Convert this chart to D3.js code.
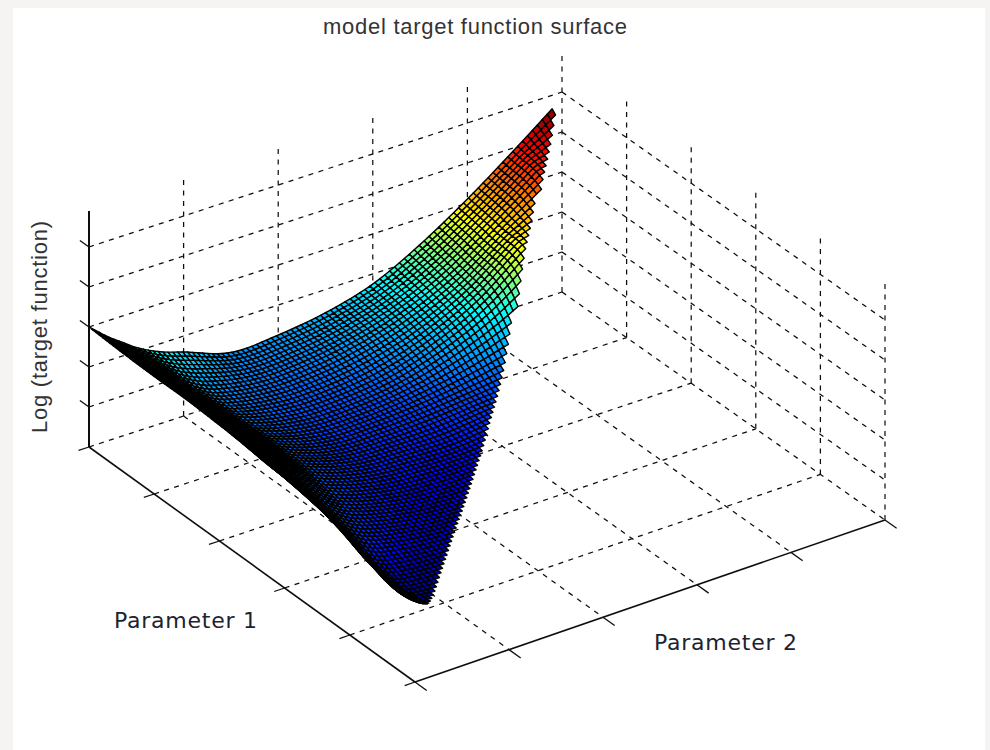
<!DOCTYPE html>
<html><head><meta charset="utf-8">
<script src="https://cdn.jsdelivr.net/npm/d3@7"></script>
<style>html,body{margin:0;padding:0;background:#f5f4f2;overflow:hidden}svg{display:block}</style>
</head><body><div id="chart"></div>
<script>
// ---- DATA ----
const titleText = "model target function surface";
const labelP1 = "Parameter 1";
const labelP2 = "Parameter 2";
const labelZ = "Log (target function)";
const p1Ticks = [0,1,2,3,4,5];
const p2Ticks = [0,1,2,3,4,5];
const zTicks = [0,1,2,3,4,5];
const zAxisTop = 5.9;
const zGridTop = 6;
// coarse surface matrix (rows: Parameter 1, columns: Parameter 2)
const p1Nodes = [0,0.5,1,1.5,2,2.5,3,3.5,4,4.5,5];
const p2Nodes = [0,0.1,0.2,0.35,0.5,0.75,1,1.5,2,2.5,3,3.5,4,4.5,5];
const zMatrix = [
 [3.00,2.80,2.60,2.35,2.10,1.80,1.60,1.20,1.25,1.42,1.75,2.35,3.10,3.95,4.85],
 [2.96,2.75,2.55,2.25,2.00,1.50,1.20,1.00,1.05,1.25,1.60,2.15,2.95,3.75,null],
 [2.94,2.74,2.54,2.24,1.94,1.40,1.05,0.80,0.80,0.95,1.30,1.85,2.70,null,null],
 [2.94,2.74,2.54,2.24,1.94,1.40,1.00,0.65,0.62,0.68,0.80,0.95,null,null,null],
 [2.90,2.68,2.45,2.10,1.80,1.30,0.90,0.55,0.45,0.42,0.55,null,null,null,null],
 [2.85,2.55,2.30,1.90,1.55,1.05,0.70,0.40,0.28,0.28,0.30,null,null,null,null],
 [2.85,2.50,2.20,1.75,1.30,0.70,0.45,0.25,0.16,null,null,null,null,null,null],
 [2.70,2.40,2.00,1.60,0.95,0.30,0.15,0.08,null,null,null,null,null,null,null],
 [2.45,2.05,1.65,1.20,0.70,0.20,0.08,null,null,null,null,null,null,null,null],
 [2.20,1.85,1.55,1.25,0.90,null,null,null,null,null,null,null,null,null,null],
 [2.00,1.60,1.30,null,null,null,null,null,null,null,null,null,null,null,null]
];
// largest Parameter 2 reached by the surface for each Parameter 1 node
const p2Limit = [4.95,4.42,3.88,3.34,2.84,2.34,1.84,1.34,0.84,0.32,-0.2];
const jetStops = ["#00008f","#0000ff","#00ffff","#ffff00","#ff0000","#7f0000"];
const jetDomain = [0,0.3,1.8,2.88,4.03,4.62];
// display mesh density: the fine mesh is a resampling of zMatrix for drawing only
const meshCells = 96;

// ---- SCALES ----
const W=990,H=750;
const svg=d3.select("#chart").append("svg").attr("width",W).attr("height",H);
svg.append("rect").attr("x",13).attr("y",8).attr("width",972).attr("height",742).attr("fill","#fff");
const defs=svg.append("defs");
defs.append("filter").attr("id","soft").append("feGaussianBlur").attr("stdDeviation",0.3);

const pL=[89,447],pF=[415,682],pB=[562,292],pR=[885,520];
const edgeNearX=d3.scaleLinear().domain([0,5]).range([pL[0],pF[0]]);
const edgeFarX=d3.scaleLinear().domain([0,5]).range([pB[0],pR[0]]);
const edgeNearY=d3.scaleLinear().domain([0,5]).range([pL[1],pF[1]]);
const edgeFarY=d3.scaleLinear().domain([0,5]).range([pB[1],pR[1]]);
const zPx=d3.scaleLinear().domain([0,1]).range([0,-40]);
function proj(p,q,z){
  const sx=d3.scaleLinear().domain([0,5]).range([edgeNearX(p),edgeFarX(p)]);
  const sy=d3.scaleLinear().domain([0,5]).range([edgeNearY(p),edgeFarY(p)]);
  return [sx(q),sy(q)+zPx(z||0)];
}
const jet=d3.scaleLinear().domain(jetDomain).range(jetStops).clamp(true);

// ---- GRID ----
const grid=svg.append("g").attr("fill","none").attr("stroke","#111").attr("stroke-width",1.25).attr("stroke-dasharray","5 5.5").attr("filter","url(#soft)");
const line=(a,b,g=grid)=>g.append("line").attr("x1",a[0]).attr("y1",a[1]).attr("x2",b[0]).attr("y2",b[1]);
p1Ticks.slice(1,5).forEach(t=>line(proj(t,0),proj(t,5)));
p2Ticks.slice(1,5).forEach(t=>line(proj(0,t),proj(5,t)));
zTicks.forEach(z=>{ line(proj(0,0,z),proj(0,5,z)); line(proj(0,5,z),proj(5,5,z)); });
p2Ticks.slice(1).forEach(t=>line(proj(0,t,0),proj(0,t,zGridTop)));
p1Ticks.slice(1).forEach(t=>line(proj(t,5,0),proj(t,5,zGridTop)));

// ---- SURFACE ----
// smooth resampling of the read matrix (cubic through the typed nodes), for display only
function cubic(xs,ys,x){
  const n=xs.length;
  const i=Math.max(0,Math.min(d3.bisectRight(xs,x)-1,n-2));
  const h=xs[i+1]-xs[i], t=(x-xs[i])/h;
  const sl=k=>{
    if(k<=0) return (ys[1]-ys[0])/(xs[1]-xs[0]);
    if(k>=n-1) return (ys[n-1]-ys[n-2])/(xs[n-1]-xs[n-2]);
    return (ys[k+1]-ys[k-1])/(xs[k+1]-xs[k-1]);
  };
  const m0=sl(i)*h,m1=sl(i+1)*h,t2=t*t,t3=t2*t;
  return (2*t3-3*t2+1)*ys[i]+(t3-2*t2+t)*m0+(-2*t3+3*t2)*ys[i+1]+(t3-t2)*m1;
}
const rowFns=zMatrix.map(row=>{
  const ix=d3.range(row.length).filter(i=>row[i]!==null);
  const xs=ix.map(i=>p2Nodes[i]), ys=ix.map(i=>row[i]);
  const last=xs[xs.length-1];
  return q=> q>=last ? ys[ys.length-1] : cubic(xs,ys,q);
});
const limitScale=d3.scaleLinear().domain(p1Nodes).range(p2Limit);
function zAt(p,q){ return Math.max(0,cubic(p1Nodes,rowFns.map(f=>f(q)),p)); }
const meshP=d3.scaleLinear().domain([0,meshCells]).range([0,5]);
const meshQ=d3.scaleLinear().domain([0,meshCells]).range([0,5]);
const cells=[];
for(let i=0;i<meshCells;i++){
  const p0=meshP(i),p1=meshP(i+1);
  for(let j=meshCells-1;j>=0;j--){ // far to near
    const q0=meshQ(j),q1=meshQ(j+1);
    if(q1>limitScale(p1)+0.03) continue;
    cells.push([[p0,q0],[p1,q0],[p1,q1],[p0,q1]].map(([p,q])=>[p,q,zAt(p,q)]));
  }
}
const lineGen=d3.line().curve(d3.curveLinearClosed);
svg.append("g").attr("stroke","#000").attr("stroke-width",1.45).attr("stroke-linejoin","round").attr("filter","url(#soft)")
  .selectAll("path").data(cells).join("path")
  .attr("d",c=>lineGen(c.map(v=>proj(v[0],v[1],v[2]))))
  .attr("fill",c=>jet(d3.mean(c,v=>v[2])));

// ---- AXES ----
const ax=svg.append("g").attr("stroke","#111").attr("stroke-width",1.6).attr("fill","none").attr("filter","url(#soft)");
line(proj(0,0,0),proj(0,0,zAxisTop),ax).attr("stroke-width",2);
line(proj(0,0,0),proj(5,0,0),ax);
line(proj(5,0,0),proj(5,5,0),ax);
const tk=ax.append("g").attr("stroke-width",1.3);
p1Ticks.forEach(t=>{line(proj(t,0,0),proj(t,-0.11,0),tk);});
p2Ticks.forEach(t=>{line(proj(5,t,0),proj(5.18,t,0),tk);});
zTicks.slice(1).forEach(z=>{line(proj(0,0,z),proj(-0.14,0,z),tk);});

// ---- TEXT ----
const txt=(s,x,y,size,fam,len,col)=>svg.append("text").text(s).attr("x",x).attr("y",y)
  .attr("font-size",size).attr("font-family",fam).attr("fill",col)
  .attr("textLength",len).attr("lengthAdjust","spacing");
txt(titleText,323,34,22,"Liberation Sans",304,"#333");
txt(labelP1,114,628,22,"DejaVu Sans",143,"#1c2430");
txt(labelP2,654,650,22,"DejaVu Sans",143,"#1c2430");
txt(labelZ,0,0,22,"Liberation Sans",212,"#333").attr("transform","translate(47,433) rotate(-90)");
</script></body></html>
